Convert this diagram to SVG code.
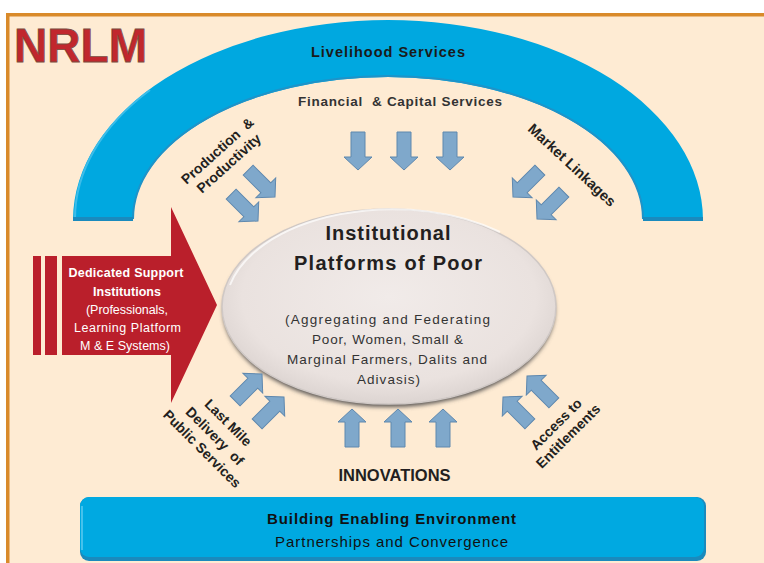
<svg xmlns="http://www.w3.org/2000/svg" width="764" height="563" viewBox="0 0 764 563">
<defs>
<style>
.lbl{font-family:"Liberation Sans",Arial,sans-serif;font-weight:bold;font-size:14px;fill:#231F20;text-anchor:middle}
.wt{font-family:"Liberation Sans",Arial,sans-serif;fill:#fff;text-anchor:middle;font-size:12.5px}
.el{font-family:"Liberation Sans",Arial,sans-serif;fill:#333;text-anchor:middle;font-size:13.5px}
.bar{font-family:"Liberation Sans",Arial,sans-serif;fill:#111;text-anchor:middle;font-size:15px}
.conn use{fill:#7FA8CB;stroke:#5F88AE;stroke-width:1}
</style>
<path id="arr" d="M-7,-38 H7 V-13 H14 L0,0 L-14,-13 H-7 Z"/>
<radialGradient id="eg" cx="0.5" cy="0.45" r="0.55">
<stop offset="0" stop-color="#F1EBE9"/>
<stop offset="0.8" stop-color="#EAE2DF"/>
<stop offset="1" stop-color="#DCD4D1"/>
</radialGradient>
<filter id="sh" x="-10%" y="-10%" width="120%" height="130%">
<feGaussianBlur stdDeviation="2"/>
</filter>
</defs>
<rect x="0" y="0" width="764" height="563" fill="#fff"/>
<rect x="7.75" y="14.75" width="780" height="570" fill="#FEEBD3" stroke="#D98A2A" stroke-width="3.5"/>

<g id="title">
<text x="14" y="62" font-family="Liberation Sans,Arial,sans-serif" font-weight="bold" font-size="48" textLength="133" lengthAdjust="spacingAndGlyphs" fill="#C1272D" stroke="#7A4B3E" stroke-width="0.8">NRLM</text>
</g>

<g id="livelihood-services">
<path d="M73,220 A315,200 0 0 1 703,220 L643,220 A255,143 0 0 0 133,220 Z" fill="#00A8E0"/>
<path d="M643,219 A255,143 0 0 0 133,219" fill="none" stroke="#1E93C8" stroke-width="2"/>
<path d="M75,219 A313,198 0 0 1 150,90" fill="none" stroke="#3CBDE9" stroke-width="2"/>
<rect x="73" y="217" width="60" height="4" fill="#1A8ABD"/>
<rect x="643" y="217" width="60" height="4" fill="#1A8ABD"/>
<text x="388" y="57" font-family="Liberation Sans,Arial,sans-serif" font-weight="bold" font-size="14.5" text-anchor="middle" textLength="154" fill="#1a1a1a">Livelihood Services</text>
</g>

<g id="financial-services">
<text x="400" y="106" font-family="Liberation Sans,Arial,sans-serif" font-weight="bold" font-size="13.5" text-anchor="middle" textLength="204" fill="#333">Financial&#160; &amp; Capital Services</text>
</g>

<g id="production">
<g transform="translate(223,157) rotate(-42)">
<text class="lbl" x="0" y="-3.5">Production&#160; &amp;</text>
<text class="lbl" x="0" y="13.5">Productivity</text>
</g>
</g>

<g id="market-linkages">
<text class="lbl" transform="translate(572,165) rotate(43)" x="0" y="5" style="font-size:14.5px">Market Linkages</text>
</g>

<g id="last-mile">
<g transform="translate(215,436) rotate(45)">
<text class="lbl" x="0" y="-14">Last Mile</text>
<text class="lbl" x="0" y="5">Delivery&#160; of</text>
<text class="lbl" x="0" y="23">Public Services</text>
</g>
</g>

<g id="access">
<g transform="translate(562,430) rotate(-45)">
<text class="lbl" x="0" y="-3.5">Access to</text>
<text class="lbl" x="0" y="13.5">Entitlements</text>
</g>
</g>

<g id="innovations">
<text class="lbl" x="394.5" y="481" style="font-size:16.5px">INNOVATIONS</text>
</g>

<g id="support-institutions">
<rect x="33" y="256" width="8" height="99" fill="#BA1F2B"/>
<rect x="45" y="256" width="12" height="99" fill="#BA1F2B"/>
<path d="M62,256 H171 V207 L217,305 L171,403 V355 H62 Z" fill="#BA1F2B"/>
<text class="wt" x="126" y="277" font-weight="bold" textLength="115">Dedicated Support</text>
<text class="wt" x="127" y="295.5" font-weight="bold" textLength="68">Institutions</text>
<text class="wt" x="127" y="313.5" textLength="82">(Professionals,</text>
<text class="wt" x="127.5" y="331.5" textLength="107">Learning Platform</text>
<text class="wt" x="125" y="349.5" textLength="90">M &amp; E Systems)</text>
</g>

<g id="institutional-platforms">
<ellipse cx="389" cy="310" rx="166" ry="97" fill="#5A5654" filter="url(#sh)"/>
<ellipse cx="389" cy="306.5" rx="167" ry="97.5" fill="url(#eg)" stroke="#CFC8C5" stroke-width="1.5"/>
<path d="M230,285 A167,97.5 0 0 1 500,232" fill="none" stroke="#fff" stroke-width="2" opacity="0.7"/>
<text x="388" y="240" font-family="Liberation Sans,Arial,sans-serif" font-weight="bold" font-size="20" text-anchor="middle" textLength="125" fill="#231F20">Institutional</text>
<text x="388" y="270" font-family="Liberation Sans,Arial,sans-serif" font-weight="bold" font-size="20" text-anchor="middle" textLength="188" fill="#231F20">Platforms of Poor</text>
<text class="el" x="387.5" y="324" textLength="205">(Aggregating and Federating</text>
<text class="el" x="387.5" y="344" textLength="151">Poor, Women, Small &amp;</text>
<text class="el" x="387" y="364" textLength="200">Marginal Farmers, Dalits and</text>
<text class="el" x="388.5" y="384" textLength="63">Adivasis)</text>
</g>

<g id="enabling-environment">
<rect x="80" y="497" width="626" height="64" rx="9" fill="#1A8ABD"/>
<rect x="80" y="497" width="624" height="60" rx="9" fill="#00A9E1"/>
<path d="M82,506 V550" stroke="#45C2EC" stroke-width="2"/>
<text class="bar" x="391.5" y="524" font-weight="bold" textLength="249">Building Enabling Environment</text>
<text class="bar" x="391.5" y="547" textLength="233">Partnerships and Convergence</text>
</g>

<g id="connectors" class="conn">
<use href="#arr" transform="translate(358,170)"/>
<use href="#arr" transform="translate(404,170)"/>
<use href="#arr" transform="translate(450,170)"/>
<use href="#arr" transform="translate(275,197) rotate(-45)"/>
<use href="#arr" transform="translate(258,221) rotate(-45)"/>
<use href="#arr" transform="translate(513,197) rotate(45)"/>
<use href="#arr" transform="translate(537,219) rotate(45)"/>
<use href="#arr" transform="translate(262,374) rotate(-135)"/>
<use href="#arr" transform="translate(284,397) rotate(-135)"/>
<use href="#arr" transform="translate(527,376) rotate(135)"/>
<use href="#arr" transform="translate(503,397) rotate(135)"/>
<use href="#arr" transform="translate(352,409) rotate(180)"/>
<use href="#arr" transform="translate(398,409) rotate(180)"/>
<use href="#arr" transform="translate(443,409) rotate(180)"/>
</g>
</svg>
